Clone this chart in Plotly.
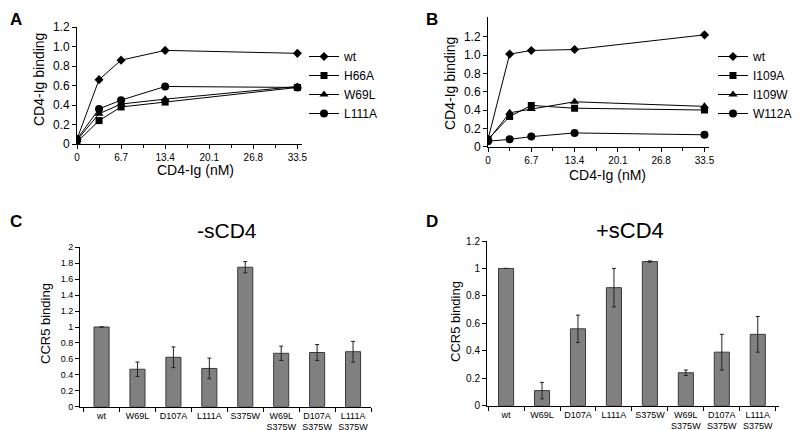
import plotly.graph_objects as go

# panels A and B: CD4-Ig binding curves
conc = [0, 3.35, 6.7, 13.4, 33.5]

a_names = ['wt', 'H66A', 'W69L', 'L111A']
a_values = [
    [0.05, 0.66, 0.86, 0.96, 0.93],
    [0.02, 0.24, 0.38, 0.43, 0.58],
    [0.04, 0.31, 0.41, 0.46, 0.59],
    [0.05, 0.36, 0.45, 0.59, 0.58],
]

b_names = ['wt', 'I109A', 'I109W', 'W112A']
b_values = [
    [0.08, 1.01, 1.05, 1.06, 1.22],
    [0.08, 0.33, 0.45, 0.42, 0.40],
    [0.07, 0.37, 0.41, 0.49, 0.44],
    [0.06, 0.08, 0.11, 0.15, 0.13],
]

symbols = ['diamond', 'square', 'triangle-up', 'circle']
sizes = [7, 7, 8, 8]

# panels C and D: CCR5 binding bars
mutants = ['wt', 'W69L', 'D107A', 'L111A', 'S375W',
           'W69L<br>S375W', 'D107A<br>S375W', 'L111A<br>S375W']
c_values = [1.0, 0.47, 0.62, 0.48, 1.75, 0.67, 0.68, 0.69]
c_errors = [0, 0.09, 0.13, 0.13, 0.07, 0.09, 0.10, 0.13]
d_values = [1.0, 0.11, 0.56, 0.86, 1.05, 0.24, 0.39, 0.52]
d_errors = [0, 0.06, 0.10, 0.14, 0.005, 0.02, 0.13, 0.13]

FONT = 'Liberation Sans, Arial, sans-serif'

# page body adds an 8px margin, so the figure is laid out on 792x422
W, H, OFF = 792, 422, 8


def px(x):
    return (x - OFF) / W


def py(y):
    return 1 - (y - OFF) / H


fig = go.Figure()

for name, vals, sym, sz in zip(a_names, a_values, symbols, sizes):
    fig.add_trace(go.Scatter(
        x=conc, y=vals, name=name, mode='lines+markers',
        line=dict(color='black', width=1),
        marker=dict(symbol=sym, size=sz, color='black'),
        xaxis='x', yaxis='y', legend='legend'
    ))

for name, vals, sym, sz in zip(b_names, b_values, symbols, sizes):
    fig.add_trace(go.Scatter(
        x=conc, y=vals, name=name, mode='lines+markers',
        line=dict(color='black', width=1),
        marker=dict(symbol=sym, size=sz, color='black'),
        xaxis='x2', yaxis='y2', legend='legend2'
    ))

bar_style = dict(marker=dict(color='#808080', line=dict(color='#3a3a3a', width=1)),
                 width=0.42, showlegend=False)

fig.add_trace(go.Bar(
    x=mutants, y=c_values, xaxis='x3', yaxis='y3',
    error_y=dict(type='data', array=c_errors, color='#222222', thickness=1, width=2),
    **bar_style
))
fig.add_trace(go.Bar(
    x=mutants, y=d_values, xaxis='x4', yaxis='y4',
    error_y=dict(type='data', array=d_errors, color='#222222', thickness=1, width=2),
    **bar_style
))

line_ax = dict(showline=True, linecolor='black', linewidth=1, showgrid=False,
               zeroline=False, ticks='outside', ticklen=4, tickcolor='black',
               tickwidth=1, automargin=False)

curve_x = dict(line_ax, range=[0, 34.2], tickvals=[0, 6.7, 13.4, 20.1, 26.8, 33.5],
               ticktext=['0', '6.7', '13.4', '20.1', '26.8', '33.5'],
               minor=dict(dtick=3.35, ticks='outside', ticklen=3, tickcolor='black'),
               tickfont=dict(size=10))
curve_yticks = [0, 0.2, 0.4, 0.6, 0.8, 1.0, 1.2]
curve_ytext = ['0', '0.2', '0.4', '0.6', '0.8', '1.0', '1.2']
curve_y = dict(line_ax, tickvals=curve_yticks, ticktext=curve_ytext, tickfont=dict(size=12))

bar_x = dict(line_ax, tickson='boundaries', tickfont=dict(size=9), type='category',
             tickangle=0)
bar_y = dict(line_ax, tickfont=dict(size=9))

fig.update_layout(
    width=W, height=H,
    margin=dict(l=0, r=0, t=0, b=0),
    paper_bgcolor='white', plot_bgcolor='white',
    font=dict(family=FONT, color='black'),
    bargap=0.5,
    xaxis=dict(curve_x, domain=[px(77), px(302)], anchor='y'),
    yaxis=dict(curve_y, domain=[py(144), py(27)], range=[0, 1.2], anchor='x'),
    xaxis2=dict(curve_x, domain=[px(488), px(709)], anchor='y2'),
    yaxis2=dict(curve_y, domain=[py(146.7), py(17)], range=[0, 1.415], anchor='x2'),
    xaxis3=dict(bar_x, domain=[px(80), px(371)], range=[-0.6, 7.5], anchor='y3'),
    yaxis3=dict(bar_y, domain=[py(406.7), py(247.3)], range=[0, 2], dtick=0.2, anchor='x3'),
    xaxis4=dict(bar_x, domain=[px(487), px(779)], range=[-0.53, 7.59], anchor='y4'),
    yaxis4=dict(bar_y, domain=[py(405.7), py(241)], range=[0, 1.2], dtick=0.2,
                tickfont=dict(size=10), anchor='x4'),
    legend=dict(x=px(304), y=py(42), xanchor='left', yanchor='top',
                font=dict(size=12), bgcolor='rgba(0,0,0,0)', tracegroupgap=0),
    legend2=dict(x=px(713), y=py(42), xanchor='left', yanchor='top',
                 font=dict(size=12), bgcolor='rgba(0,0,0,0)', tracegroupgap=0),
)

# axis titles and bar-chart titles
for text, x, y, angle, size in [
    ('CD4-Ig binding', 39, 80, -90, 14),
    ('CD4-Ig (nM)', 195, 170, 0, 14),
    ('CD4-Ig binding', 450, 84, -90, 14),
    ('CD4-Ig (nM)', 607, 175, 0, 14),
    ('CCR5 binding', 45, 324, -90, 13),
    ('CCR5 binding', 455, 322, -90, 13),
    ('-sCD4', 227, 230, 0, 21),
    ('+sCD4', 630, 230, 0, 22),
]:
    fig.add_annotation(text=text, x=px(x), y=py(y), xref='paper', yref='paper',
                       xanchor='center', yanchor='middle', textangle=angle,
                       showarrow=False, font=dict(size=size, family=FONT))

# panel letters
for letter, x, y in [('A', 8, 8), ('B', 424, 8), ('C', 8, 210), ('D', 424, 210)]:
    fig.add_annotation(text=f'<b>{letter}</b>', x=px(x), y=py(y), xref='paper', yref='paper',
                       xanchor='left', yanchor='top', showarrow=False,
                       font=dict(size=17, family=FONT))

fig.write_html("out.html")
